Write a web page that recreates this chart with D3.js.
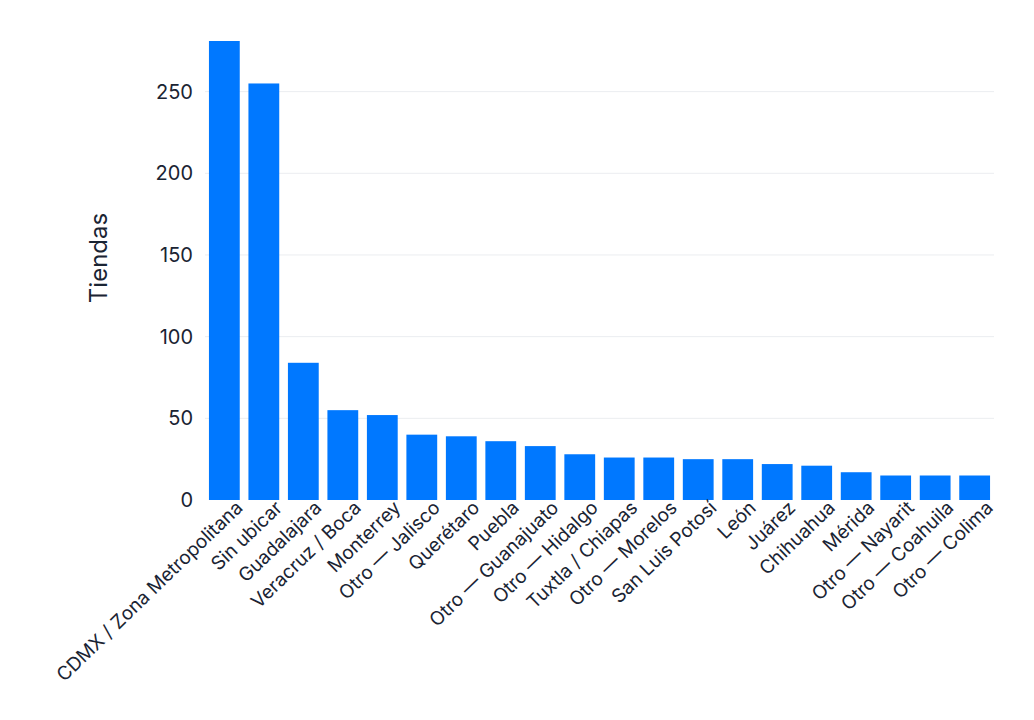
<!DOCTYPE html>
<html><head><meta charset="utf-8">
<script src="https://cdn.jsdelivr.net/npm/d3@7"></script>
<style>body{margin:0;background:#fff;font-family:Inter,"Noto Sans",sans-serif}</style>
</head><body><div id="main"></div>
<script>
const categories = ["CDMX / Zona Metropolitana","Sin ubicar","Guadalajara","Veracruz / Boca","Monterrey","Otro — Jalisco","Querétaro","Puebla","Otro — Guanajuato","Otro — Hidalgo","Tuxtla / Chiapas","Otro — Morelos","San Luis Potosí","León","Juárez","Chihuahua","Mérida","Otro — Nayarit","Otro — Coahuila","Otro — Colima"];
const values = [281,255,84,55,52,40,39,36,33,28,26,26,25,25,22,21,17,15,15,15];
const yTicks = [0,50,100,150,200,250];

const width = 1034, height = 720;
const plotLeft = 205, plotRight = 994, plotTop = 41, plotBottom = 500;
const svg = d3.select('#main').append('svg').attr('width', width).attr('height', height);

const x = d3.scaleBand().domain(categories).range([plotLeft, plotRight]).paddingInner(0.22).paddingOuter(0.1);
const y = d3.scaleLinear().domain([0, 281]).range([plotBottom, plotTop]);

svg.append('g').selectAll('line').data(yTicks.slice(1)).join('line')
  .attr('x1', plotLeft).attr('x2', plotRight).attr('y1', d => y(d)).attr('y2', d => y(d))
  .attr('stroke', '#ebedf0');

svg.append('g').selectAll('rect').data(values).join('rect')
  .attr('x', (d, i) => x(categories[i])).attr('width', x.bandwidth())
  .attr('y', d => y(d)).attr('height', d => plotBottom - y(d)).attr('fill', '#0078ff');

const yAxis = svg.append('g').attr('transform', `translate(${plotLeft},0)`)
  .call(d3.axisLeft(y).tickValues(yTicks).tickSize(0).tickPadding(12));
yAxis.select('.domain').remove();
yAxis.selectAll('text').attr('font-size', 20).attr('fill', '#1a2433').attr('font-family', 'Inter');

const xAxis = svg.append('g').attr('transform', `translate(0,${plotBottom})`)
  .call(d3.axisBottom(x).tickSize(0).tickPadding(4));
xAxis.select('.domain').remove();
xAxis.selectAll('text').attr('font-size', 19).attr('fill', '#1a2433').attr('font-family', 'Inter')
  .attr('text-anchor', 'end').attr('dx', '0.4em').attr('dy', '0.85em')
  .attr('transform', 'rotate(-44)');

svg.append('text').attr('transform', 'rotate(-90)').attr('x', -258).attr('y', 107)
  .attr('text-anchor', 'middle').attr('font-size', 24).attr('fill', '#1a2433').text('Tiendas');
</script></body></html>
